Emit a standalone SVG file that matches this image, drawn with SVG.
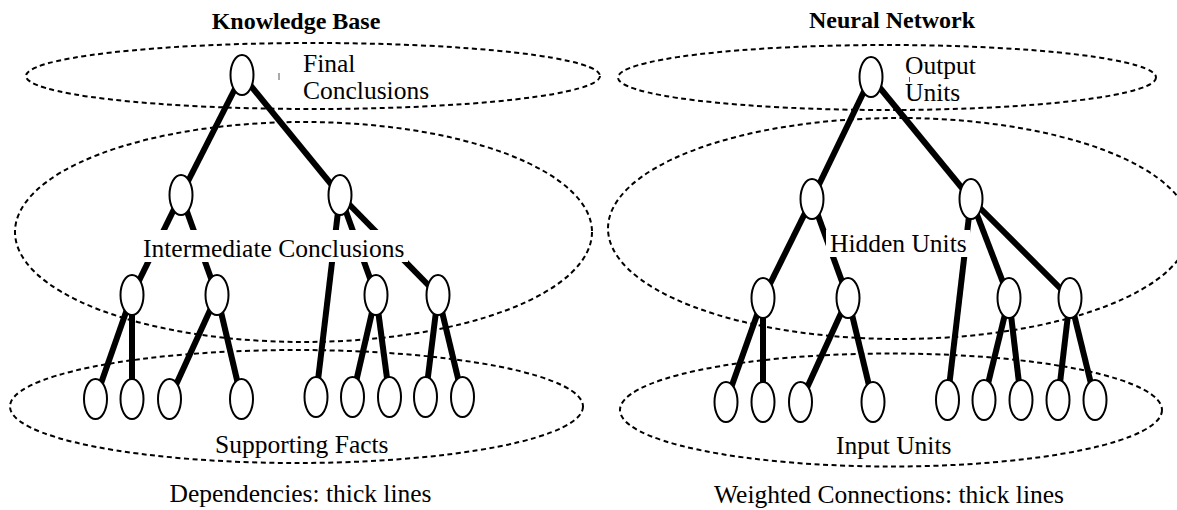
<svg xmlns="http://www.w3.org/2000/svg" width="1177" height="510" viewBox="0 0 1177 510">
<style>
.region{fill:none;stroke:#000;stroke-width:2;stroke-dasharray:5 3.5}
.edge{stroke:#000;stroke-width:6;stroke-linecap:butt}
.node{fill:#fff;stroke:#000;stroke-width:2}
.lbl{font-family:"Liberation Serif","Times New Roman",serif;font-size:25.5px;fill:#000}
.title{font-family:"Liberation Serif","Times New Roman",serif;font-size:24px;font-weight:bold;fill:#000;text-anchor:middle}
.mask{fill:#fff}
.tick{stroke:#555;stroke-width:1}
</style>
<rect width="1177" height="510" fill="#fff"/>
<g id="titles">
<text class="title" x="296" y="29">Knowledge Base</text>
<text class="title" x="892" y="28">Neural Network</text>
</g>
<g id="regions">
<ellipse id="kb-final" class="region" cx="313" cy="76" rx="287" ry="33"/>
<ellipse id="kb-intermediate" class="region" cx="303.5" cy="232" rx="288.5" ry="110"/>
<ellipse id="kb-facts" class="region" cx="296.5" cy="406.5" rx="286.5" ry="56.5"/>
<ellipse id="nn-output" class="region" cx="887" cy="77.5" rx="269" ry="32.5"/>
<ellipse id="nn-hidden" class="region" cx="899" cy="228.5" rx="291" ry="110.5"/>
<ellipse id="nn-input" class="region" cx="891" cy="410" rx="271" ry="56.5"/>
</g>
<g id="connectors">
<line class="edge" x1="242" y1="75" x2="181" y2="195"/>
<line class="edge" x1="242" y1="75" x2="340" y2="195"/>
<line class="edge" x1="181" y1="195" x2="132" y2="295"/>
<line class="edge" x1="181" y1="195" x2="217" y2="295"/>
<line class="edge" x1="340" y1="195" x2="316" y2="397"/>
<line class="edge" x1="340" y1="195" x2="376" y2="295"/>
<line class="edge" x1="340" y1="195" x2="438" y2="295"/>
<line class="edge" x1="132" y1="295" x2="95.5" y2="399"/>
<line class="edge" x1="132" y1="295" x2="132" y2="399"/>
<line class="edge" x1="217" y1="295" x2="169.5" y2="399"/>
<line class="edge" x1="217" y1="295" x2="241.5" y2="399"/>
<line class="edge" x1="376" y1="295" x2="352.5" y2="397"/>
<line class="edge" x1="376" y1="295" x2="389.5" y2="397"/>
<line class="edge" x1="438" y1="295" x2="425.5" y2="397"/>
<line class="edge" x1="438" y1="295" x2="462.5" y2="397"/>
<line class="edge" x1="871" y1="77" x2="812" y2="199"/>
<line class="edge" x1="871" y1="77" x2="971" y2="199"/>
<line class="edge" x1="812" y1="199" x2="763" y2="298"/>
<line class="edge" x1="812" y1="199" x2="848" y2="298"/>
<line class="edge" x1="971" y1="199" x2="947.5" y2="400"/>
<line class="edge" x1="971" y1="199" x2="1009" y2="298"/>
<line class="edge" x1="971" y1="199" x2="1070" y2="298"/>
<line class="edge" x1="763" y1="298" x2="726" y2="402"/>
<line class="edge" x1="763" y1="298" x2="763" y2="402"/>
<line class="edge" x1="848" y1="298" x2="800.5" y2="402"/>
<line class="edge" x1="848" y1="298" x2="873" y2="402"/>
<line class="edge" x1="1009" y1="298" x2="984" y2="400"/>
<line class="edge" x1="1009" y1="298" x2="1021" y2="400"/>
<line class="edge" x1="1070" y1="298" x2="1058" y2="400"/>
<line class="edge" x1="1070" y1="298" x2="1095" y2="400"/>
</g>
<g id="labels">
<text class="lbl" x="303" y="72">Final</text>
<text class="lbl" x="303" y="99">Conclusions</text>
<line class="tick" x1="279" y1="73" x2="279" y2="80"/>
<rect class="mask" x="140" y="230" width="268" height="32"/>
<text class="lbl" x="143" y="257">Intermediate Conclusions</text>
<text class="lbl" x="215" y="453">Supporting Facts</text>
<text class="lbl" x="300.5" y="502" text-anchor="middle">Dependencies: thick lines</text>
<text class="lbl" x="905" y="74">Output</text>
<text class="lbl" x="905" y="101">Units</text>
<line class="tick" x1="909.5" y1="77" x2="909.5" y2="82"/>
<rect class="mask" x="826" y="230" width="144" height="27"/>
<text class="lbl" x="830" y="252">Hidden Units</text>
<text class="lbl" x="836" y="454">Input Units</text>
<text class="lbl" x="889" y="503" text-anchor="middle">Weighted Connections: thick lines</text>
</g>
<g id="kb-nodes">
<g id="kb-top"><ellipse class="node" cx="242" cy="75" rx="11.5" ry="20"/></g>
<g id="kb-i1"><ellipse class="node" cx="181" cy="195" rx="11.5" ry="20"/></g>
<g id="kb-i2"><ellipse class="node" cx="340" cy="195" rx="11.5" ry="20"/></g>
<g id="kb-i3"><ellipse class="node" cx="132" cy="295" rx="11.5" ry="20"/></g>
<g id="kb-i4"><ellipse class="node" cx="217" cy="295" rx="11.5" ry="20"/></g>
<g id="kb-i5"><ellipse class="node" cx="376" cy="295" rx="11.5" ry="20"/></g>
<g id="kb-i6"><ellipse class="node" cx="438" cy="295" rx="11.5" ry="20"/></g>
<g id="kb-f1"><ellipse class="node" cx="95.5" cy="399" rx="11.5" ry="20"/></g>
<g id="kb-f2"><ellipse class="node" cx="132" cy="399" rx="11.5" ry="20"/></g>
<g id="kb-f3"><ellipse class="node" cx="169.5" cy="399" rx="11.5" ry="20"/></g>
<g id="kb-f4"><ellipse class="node" cx="241.5" cy="399" rx="11.5" ry="20"/></g>
<g id="kb-f5"><ellipse class="node" cx="316" cy="397" rx="11.5" ry="20"/></g>
<g id="kb-f6"><ellipse class="node" cx="352.5" cy="397" rx="11.5" ry="20"/></g>
<g id="kb-f7"><ellipse class="node" cx="389.5" cy="397" rx="11.5" ry="20"/></g>
<g id="kb-f8"><ellipse class="node" cx="425.5" cy="397" rx="11.5" ry="20"/></g>
<g id="kb-f9"><ellipse class="node" cx="462.5" cy="397" rx="11.5" ry="20"/></g>
</g>
<g id="nn-nodes">
<g id="nn-out"><ellipse class="node" cx="871" cy="77" rx="11.5" ry="20"/></g>
<g id="nn-h1"><ellipse class="node" cx="812" cy="199" rx="11.5" ry="20"/></g>
<g id="nn-h2"><ellipse class="node" cx="971" cy="199" rx="11.5" ry="20"/></g>
<g id="nn-h3"><ellipse class="node" cx="763" cy="298" rx="11.5" ry="20"/></g>
<g id="nn-h4"><ellipse class="node" cx="848" cy="298" rx="11.5" ry="20"/></g>
<g id="nn-h5"><ellipse class="node" cx="1009" cy="298" rx="11.5" ry="20"/></g>
<g id="nn-h6"><ellipse class="node" cx="1070" cy="298" rx="11.5" ry="20"/></g>
<g id="nn-in1"><ellipse class="node" cx="726" cy="402" rx="11.5" ry="20"/></g>
<g id="nn-in2"><ellipse class="node" cx="763" cy="402" rx="11.5" ry="20"/></g>
<g id="nn-in3"><ellipse class="node" cx="800.5" cy="402" rx="11.5" ry="20"/></g>
<g id="nn-in4"><ellipse class="node" cx="873" cy="402" rx="11.5" ry="20"/></g>
<g id="nn-in5"><ellipse class="node" cx="947.5" cy="400" rx="11.5" ry="20"/></g>
<g id="nn-in6"><ellipse class="node" cx="984" cy="400" rx="11.5" ry="20"/></g>
<g id="nn-in7"><ellipse class="node" cx="1021" cy="400" rx="11.5" ry="20"/></g>
<g id="nn-in8"><ellipse class="node" cx="1058" cy="400" rx="11.5" ry="20"/></g>
<g id="nn-in9"><ellipse class="node" cx="1095" cy="400" rx="11.5" ry="20"/></g>
</g>
</svg>
